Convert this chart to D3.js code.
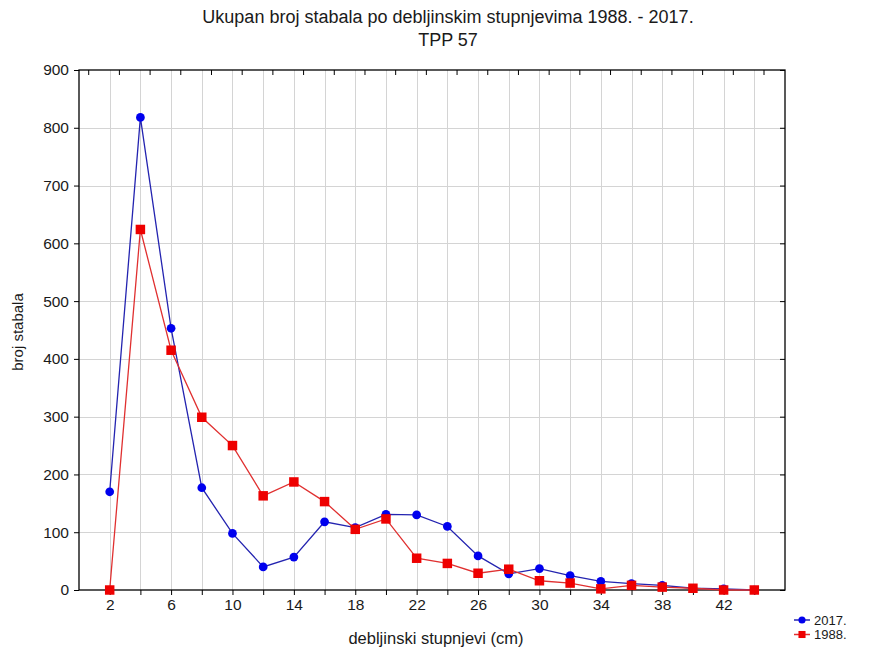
<!DOCTYPE html>
<html>
<head>
<meta charset="utf-8">
<script src="https://d3js.org/d3.v7.min.js"></script>
<style>
  body { margin: 0; background: #fff; }
  text { font-family: "Liberation Sans", Arial, sans-serif; fill: #1a1a1a; }
</style>
</head>
<body>
<script>
// diameter classes (cm)
var classes = [2, 4, 6, 8, 10, 12, 14, 16, 18, 20, 22, 24, 26, 28, 30, 32, 34, 36, 38, 40, 42, 44];
var trees2017 = [170, 818, 453, 177, 98, 40, 57, 118, 108, 131, 130, 110, 59, 28, 37, 25, 15, 11, 8, 3, 2, 0];
var trees1988 = [0, 624, 415, 299, 250, 163, 187, 153, 105, 123, 55, 46, 29, 36, 16, 12, 2, 8, 5, 3, 0, 0];
var xTickLabels = [2, 6, 10, 14, 18, 22, 26, 30, 34, 38, 42];
var yTicks = [0, 100, 200, 300, 400, 500, 600, 700, 800, 900];

var width = 872, height = 650;
var margin = {top: 70, right: 87, bottom: 60, left: 79};

var svg = d3.select("body").append("svg")
    .attr("width", width)
    .attr("height", height);

var x = d3.scaleLinear().domain([0, 46]).range([margin.left, width - margin.right]);
var y = d3.scaleLinear().domain([0, 900]).range([height - margin.bottom, margin.top]);

// grid
var grid = svg.append("g").attr("stroke", "#d4d4d4").attr("stroke-width", 1);
grid.selectAll(".vg").data(classes).enter().append("line")
    .attr("x1", d => Math.round(x(d)) + 0.5).attr("x2", d => Math.round(x(d)) + 0.5)
    .attr("y1", y(900)).attr("y2", y(0));
grid.selectAll(".hg").data(yTicks.slice(1, -1)).enter().append("line")
    .attr("y1", d => Math.round(y(d)) + 0.5).attr("y2", d => Math.round(y(d)) + 0.5)
    .attr("x1", x(0)).attr("x2", x(46));

// axes
var xAxis = d3.axisBottom(x).tickValues(classes)
    .tickFormat(d => xTickLabels.indexOf(d) >= 0 ? d : "")
    .tickSizeOuter(0).tickSize(5).tickPadding(4);
var gx = svg.append("g").attr("transform", "translate(0," + y(0) + ")").call(xAxis);
gx.select(".domain").remove();
gx.selectAll("text").style("font-size", "15.5px");

var yAxis = d3.axisLeft(y).tickValues(yTicks).tickSizeOuter(0).tickSize(5).tickPadding(5);
var gy = svg.append("g").attr("transform", "translate(" + x(0) + ",0)").call(yAxis);
gy.select(".domain").remove();
gy.selectAll("text").style("font-size", "15.5px");

// inner ticks on right and top sides
var yRight = d3.axisLeft(y).tickValues(yTicks).tickSize(5).tickFormat("");
var gr = svg.append("g").attr("transform", "translate(" + x(46) + ",0)").call(yRight);
gr.select(".domain").remove();
var topTicks = d3.range(0.6, 46, 2);
var xTop = d3.axisBottom(x).tickValues(topTicks).tickSize(5).tickFormat("");
var gt = svg.append("g").attr("transform", "translate(0," + y(900) + ")").call(xTop);
gt.select(".domain").remove();

// frame
svg.append("rect")
    .attr("x", x(0)).attr("y", y(900))
    .attr("width", x(46) - x(0)).attr("height", y(0) - y(900))
    .attr("fill", "none").attr("stroke", "#000").attr("stroke-width", 1.3);

// series
var series = [
  {name: "2017.", values: trees2017, line: "#2424b0", fill: "#0000ee", shape: "circle"},
  {name: "1988.", values: trees1988, line: "#e03030", fill: "#ee0000", shape: "square"}
];

var line = d3.line().x(d => x(d[0])).y(d => y(d[1]));

series.forEach(function(s) {
  var pts = classes.map((c, i) => [c, s.values[i]]);
  svg.append("path").datum(pts)
      .attr("d", line)
      .attr("fill", "none")
      .attr("stroke", s.line)
      .attr("stroke-width", 1.3);
  var sym = d3.symbol().type(s.shape === "circle" ? d3.symbolCircle : d3.symbolSquare)
      .size(s.shape === "circle" ? 60 : 90);
  svg.append("g").selectAll("path").data(pts).enter().append("path")
      .attr("d", sym)
      .attr("transform", d => "translate(" + x(d[0]) + "," + y(d[1]) + ")")
      .attr("fill", s.fill);
});

// titles
svg.append("text").attr("x", 448).attr("y", 23).attr("text-anchor", "middle")
    .style("font-size", "18px")
    .text("Ukupan broj stabala po debljinskim stupnjevima 1988. - 2017.");
svg.append("text").attr("x", 448).attr("y", 46).attr("text-anchor", "middle")
    .style("font-size", "18px").text("TPP 57");
svg.append("text").attr("x", 436).attr("y", 644).attr("text-anchor", "middle")
    .style("font-size", "16.5px").text("debljinski stupnjevi (cm)");
svg.append("text")
    .attr("transform", "translate(23," + 332 + ") rotate(-90)")
    .attr("text-anchor", "middle")
    .style("font-size", "15px").text("broj stabala");

// legend
var legend = svg.append("g").attr("transform", "translate(794,620)");
series.forEach(function(s, i) {
  var g = legend.append("g").attr("transform", "translate(0," + (i * 14.5) + ")");
  g.append("line").attr("x1", 0).attr("x2", 16).attr("y1", 0).attr("y2", 0)
      .attr("stroke", s.line).attr("stroke-width", 1.5);
  g.append("path")
      .attr("d", d3.symbol().type(s.shape === "circle" ? d3.symbolCircle : d3.symbolSquare)
          .size(s.shape === "circle" ? 40 : 50))
      .attr("transform", "translate(8,0)")
      .attr("fill", s.fill);
  g.append("text").attr("x", 20).attr("y", 4.5).style("font-size", "13px").text(s.name);
});
</script>
</body>
</html>
